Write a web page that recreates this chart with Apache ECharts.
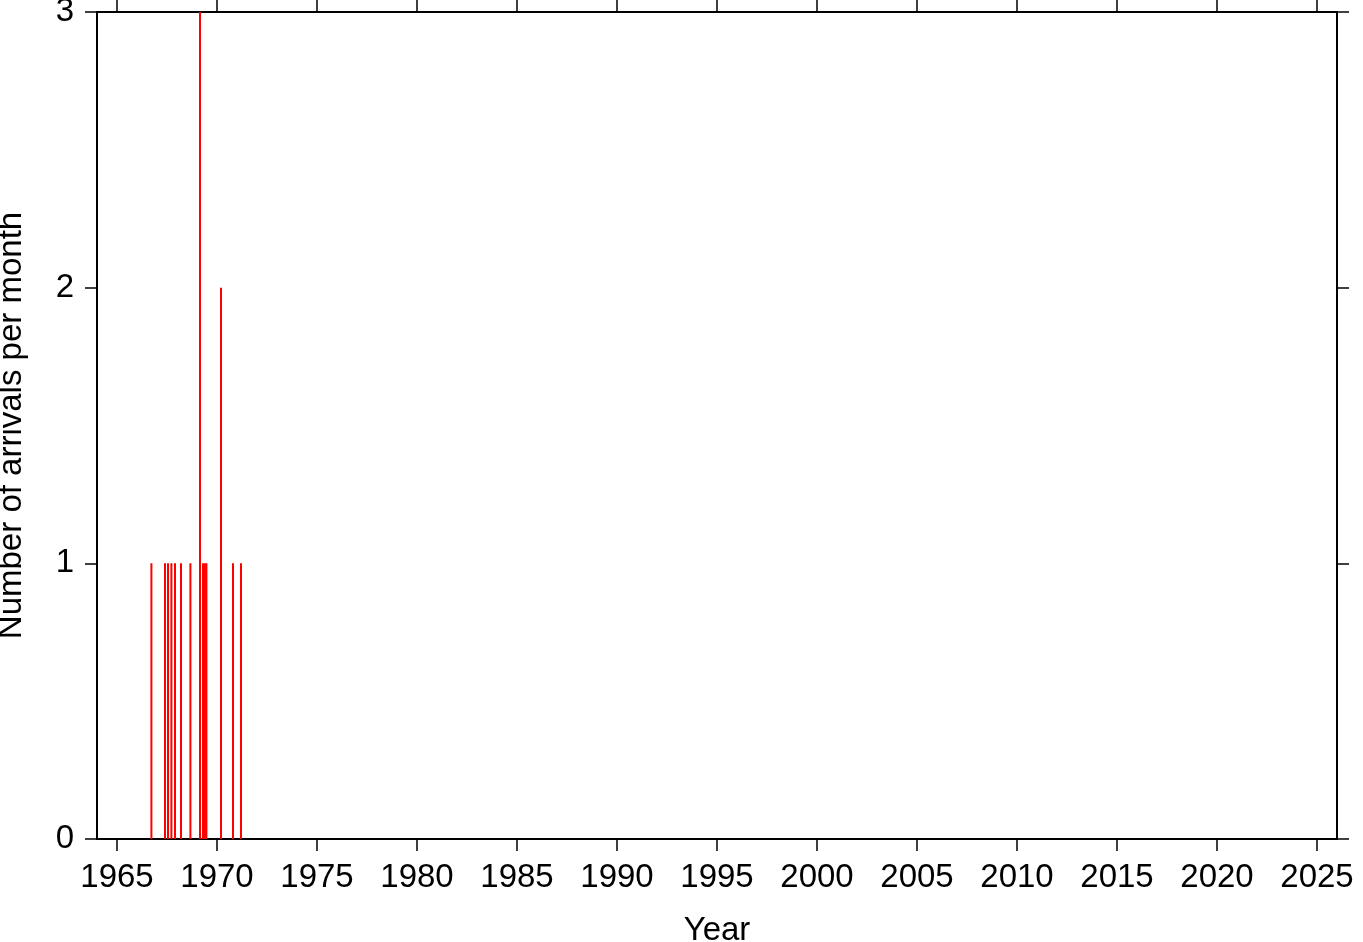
<!DOCTYPE html>
<html>
<head>
<meta charset="utf-8">
<script src="https://cdn.jsdelivr.net/npm/echarts@6/dist/echarts.min.js"></script>
<style>html,body{margin:0;padding:0;background:#fff}#c{width:1363px;height:942px}</style>
</head>
<body>
<div id="c"></div>
<script>
// Decimal year of each month with arrivals
const arrivalYears = [1966.72, 1967.40, 1967.55, 1967.72, 1967.90, 1968.20, 1968.67, 1969.15, 1969.30, 1969.40, 1969.47, 1970.20, 1970.80, 1971.20];
const arrivalCounts = [1, 1, 1, 1, 1, 1, 1, 3, 1, 1, 1, 2, 1, 1];
const xTickYears = [1965, 1970, 1975, 1980, 1985, 1990, 1995, 2000, 2005, 2010, 2015, 2020, 2025];
const yTicks = [0, 1, 2, 3];

const font = '"Liberation Sans", Arial, Helvetica, sans-serif';
const chart = echarts.init(document.getElementById('c'), null, {renderer: 'canvas'});
const lineStyle = {color: '#000', width: 2};
const baseX = {
  type: 'value', min: 1964, max: 2026, splitLine: {show: false},
  axisLine: {show: true, onZero: false, lineStyle},
  axisTick: {show: true, inside: false, length: 12, lineStyle: {color: '#000', width: 1.5}, customValues: xTickYears}
};
const baseY = {
  type: 'value', min: 0, max: 3, interval: 1, splitLine: {show: false},
  axisLine: {show: true, onZero: false, lineStyle},
  axisTick: {show: true, inside: false, length: 12, lineStyle: {color: '#000', width: 1.5}}
};
chart.setOption({
  animation: false,
  backgroundColor: '#fff',
  grid: {left: 97, right: 26, top: 12, bottom: 103, containLabel: false, outerBoundsMode: 'none'},
  xAxis: [
    Object.assign({}, baseX, {
      position: 'bottom',
      name: 'Year', nameLocation: 'middle', nameGap: 75,
      nameTextStyle: {fontFamily: font, fontSize: 33, color: '#000'},
      axisLabel: {show: true, customValues: xTickYears, margin: 22, fontFamily: font, fontSize: 33, color: '#000', formatter: v => String(v)}
    }),
    Object.assign({}, baseX, {position: 'top', axisLabel: {show: false}})
  ],
  yAxis: [
    Object.assign({}, baseY, {
      position: 'left',
      name: 'Number of arrivals per month', nameLocation: 'middle', nameGap: 69,
      nameTextStyle: {fontFamily: font, fontSize: 33, color: '#000'},
      axisLabel: {show: true, margin: 23, fontFamily: font, fontSize: 33, color: '#000', customValues: yTicks}
    }),
    Object.assign({}, baseY, {position: 'right', axisLabel: {show: false}})
  ],
  series: [{
    type: 'bar',
    xAxisIndex: 0, yAxisIndex: 0,
    barWidth: 2,
    itemStyle: {color: '#ff0000'},
    data: arrivalYears.map((y, i) => [y, arrivalCounts[i]])
  }]
});
</script>
</body>
</html>
